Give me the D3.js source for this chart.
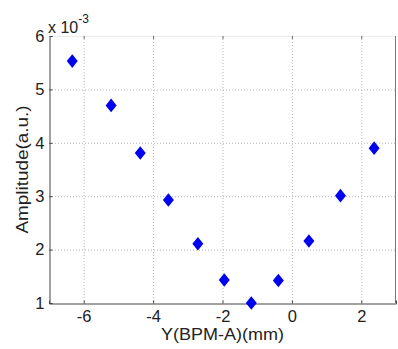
<!DOCTYPE html>
<html><head><meta charset="utf-8">
<script src="https://cdn.jsdelivr.net/npm/d3@7"></script>
<style>body{margin:0;background:#fff}svg{display:block}text{font-family:"Liberation Sans",Arial,sans-serif}</style>
</head><body>
<script>
const xValues = [-6.33, -5.21, -4.37, -3.56, -2.71, -1.95, -1.17, -0.39, 0.49, 1.40, 2.37];
const yValues = [5.53, 4.70, 3.81, 2.93, 2.11, 1.43, 1.00, 1.42, 2.16, 3.01, 3.90];
const xTicks = [-6, -4, -2, 0, 2];
const yTicks = [1, 2, 3, 4, 5, 6];
const xLabel = "Y(BPM-A)(mm)";
const yLabel = "Amplitude(a.u.)";

const W = 398, H = 349;
const m = {left: 49, top: 36, right: 2, bottom: 46};
const svg = d3.select("body").append("svg").attr("width", W).attr("height", H);
const x = d3.scaleLinear().domain([-7, 3]).range([m.left, W - m.right]);
const y = d3.scaleLinear().domain([1, 6]).range([H - m.bottom, m.top]);
const x0 = x.range()[0], x1 = x.range()[1], y0 = y.range()[0], y1 = y.range()[1];

// grid
const g = svg.append("g");
g.selectAll(".gx").data(xTicks).enter().append("line")
  .attr("x1", d => x(d) + 0.5).attr("x2", d => x(d) + 0.5).attr("y1", y1).attr("y2", y0)
  .attr("stroke", "#b8b8b8").attr("stroke-dasharray", "1,2");
g.selectAll(".gy").data(yTicks.slice(1, -1)).enter().append("line")
  .attr("y1", d => y(d) + 0.5).attr("y2", d => y(d) + 0.5).attr("x1", x0).attr("x2", x1)
  .attr("stroke", "#b8b8b8").attr("stroke-dasharray", "1,2");

// box
svg.append("line").attr("x1", x0).attr("x2", x1).attr("y1", y1 + 0.5).attr("y2", y1 + 0.5).attr("stroke", "#ececec");
svg.append("line").attr("x1", x1 - 0.5).attr("x2", x1 - 0.5).attr("y1", y1).attr("y2", y0).attr("stroke", "#777");

// axes
const ax = svg.append("g").attr("transform", `translate(0,${y0 + 0.5})`)
  .call(d3.axisBottom(x).tickValues(xTicks).tickSize(-3).tickPadding(7).tickFormat(d3.format("d")));
const ay = svg.append("g").attr("transform", `translate(${x0 + 0.5},0)`)
  .call(d3.axisLeft(y).tickValues(yTicks).tickSize(-3).tickPadding(5).tickFormat(d3.format("d")));
[ax, ay].forEach(a => {
  a.select(".domain").attr("stroke", "#444");
  a.selectAll(".tick line").attr("stroke", "#444");
  a.selectAll("text").attr("font-size", 16.5).attr("fill", "#222").attr("font-family", "Liberation Sans, Arial, sans-serif");
});
ax.selectAll("text").text(d => d < 0 ? "-" + Math.abs(d) : d);
// top ticks
svg.selectAll(".tt").data(xTicks).enter().append("line")
  .attr("x1", d => x(d) + 0.5).attr("x2", d => x(d) + 0.5).attr("y1", y1).attr("y2", y1 + 3).attr("stroke", "#666");

// exponent label
const ex = svg.append("text").attr("x", x0 - 1).attr("y", 33).attr("font-size", 16).attr("fill", "#222");
ex.append("tspan").text("x 10");
ex.append("tspan").attr("dy", -10).attr("font-size", 12).text("-3");

// axis labels
svg.append("text").attr("x", (x0 + x1) / 2).attr("y", 340).attr("text-anchor", "middle")
  .attr("font-size", 16).attr("textLength", 123).attr("lengthAdjust", "spacingAndGlyphs")
  .attr("fill", "#222").text(xLabel);
svg.append("text").attr("transform", `translate(28,${(y0 + y1) / 2}) rotate(-90)`).attr("text-anchor", "middle")
  .attr("font-size", 16.5).attr("textLength", 128).attr("lengthAdjust", "spacingAndGlyphs")
  .attr("fill", "#222").text(yLabel);

// markers
const pts = xValues.map((v, i) => [v, yValues[i]]);
const hw = 5.5, hh = 6.8;
svg.selectAll(".pt").data(pts).enter().append("path")
  .attr("d", d => `M${x(d[0])},${y(d[1]) - hh}L${x(d[0]) + hw},${y(d[1])}L${x(d[0])},${y(d[1]) + hh}L${x(d[0]) - hw},${y(d[1])}Z`)
  .attr("fill", "#0000f0");
</script>
</body></html>
